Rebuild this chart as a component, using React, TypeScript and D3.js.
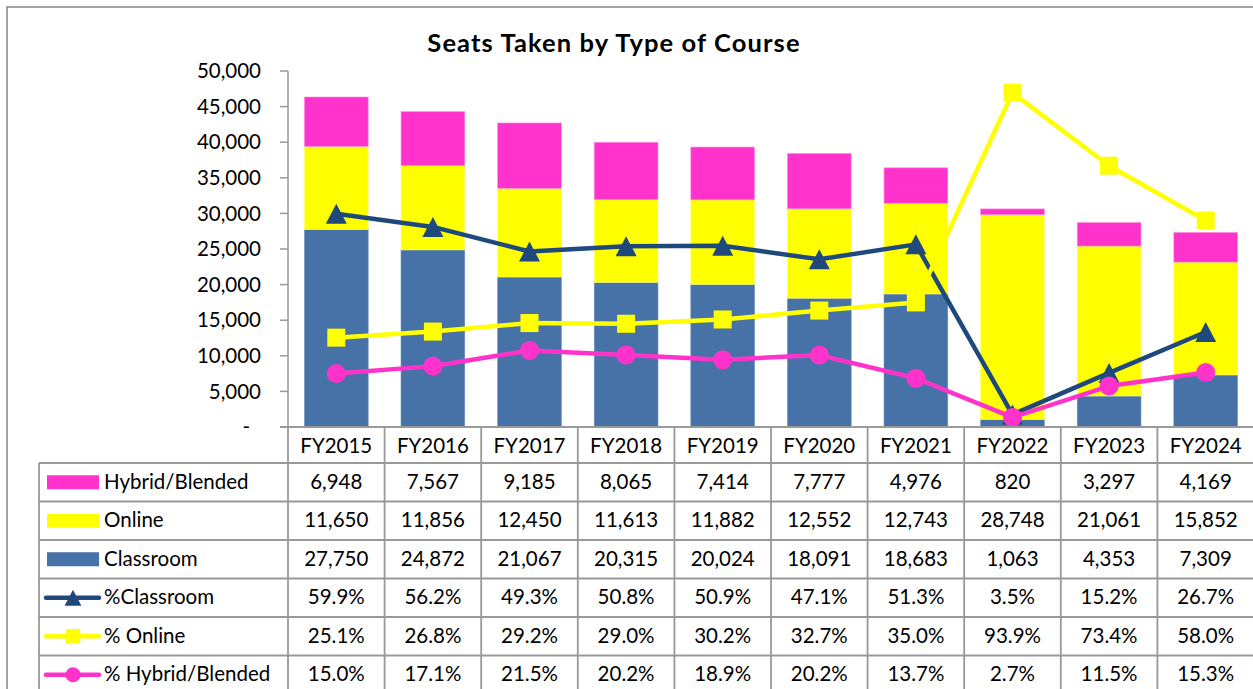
import React from 'react';
import * as d3 from 'd3';

const categories = ['FY2015', 'FY2016', 'FY2017', 'FY2018', 'FY2019', 'FY2020', 'FY2021', 'FY2022', 'FY2023', 'FY2024'];
const hybrid = [6948, 7567, 9185, 8065, 7414, 7777, 4976, 820, 3297, 4169];
const online = [11650, 11856, 12450, 11613, 11882, 12552, 12743, 28748, 21061, 15852];
const classroom = [27750, 24872, 21067, 20315, 20024, 18091, 18683, 1063, 4353, 7309];
const pctClassroom = [59.9, 56.2, 49.3, 50.8, 50.9, 47.1, 51.3, 3.5, 15.2, 26.7];
const pctOnline = [25.1, 26.8, 29.2, 29.0, 30.2, 32.7, 35.0, 93.9, 73.4, 58.0];
const pctHybrid = [15.0, 17.1, 21.5, 20.2, 18.9, 20.2, 13.7, 2.7, 11.5, 15.3];
const yTicks = [0, 5000, 10000, 15000, 20000, 25000, 30000, 35000, 40000, 45000, 50000];

const BLUE = '#4672A7';
const NAVY = '#1F497D';
const YELLOW = '#FFFF00';
const PINK = '#FF33CC';
const GRID = '#999999';
const FONT = 'Lato, "Open Sans", sans-serif';

type Marker = 'triangle' | 'square' | 'circle';

function MarkerShape({ kind, cx, cy, color, s = 1 }: { kind: Marker; cx: number; cy: number; color: string; s?: number }) {
  if (kind === 'triangle') {
    const w = 21 * s, h = 20 * s;
    return <path d={`M${cx},${cy - h / 2} L${cx + w / 2},${cy + h / 2} L${cx - w / 2},${cy + h / 2} Z`} fill={color} />;
  }
  if (kind === 'square') {
    const a = 18 * s;
    return <rect x={cx - a / 2} y={cy - a / 2} width={a} height={a} fill={color} />;
  }
  return <circle cx={cx} cy={cy} r={9.5 * s} fill={color} />;
}

export default function App() {
  const left = 288, right = 1254, top = 71, bottom = 427;
  const x = d3.scaleBand<string>().domain(categories).range([left, right]).paddingInner(0.34).paddingOuter(0.17);
  const step = x.step();
  const y = d3.scaleLinear().domain([0, 50000]).range([bottom, top]);
  const y2 = d3.scaleLinear().domain([0, 100]).range([bottom, top]);
  const fmtN = d3.format(',');
  const fmtT = (v: number) => (v === 0 ? '-' : fmtN(v));
  const cx = (c: string) => (x(c) as number) + x.bandwidth() / 2;

  const stacks = categories.map((c, i) => {
    const segs = [
      { v: classroom[i], color: BLUE, edge: '#6F93C0' },
      { v: online[i], color: YELLOW, edge: '#FFFF80' },
      { v: hybrid[i], color: PINK, edge: '#FF8FE2' },
    ];
    let acc = 0;
    return segs.map((s) => {
      const y0 = acc;
      acc += s.v;
      return { c, y0, y1: acc, color: s.color, edge: s.edge };
    });
  });

  const lineSeries: { name: string; values: number[]; color: string; marker: Marker }[] = [
    { name: '%Classroom', values: pctClassroom, color: NAVY, marker: 'triangle' },
    { name: '% Online', values: pctOnline, color: YELLOW, marker: 'square' },
    { name: '% Hybrid/Blended', values: pctHybrid, color: PINK, marker: 'circle' },
  ];
  const line = d3.line<number>().x((_, i) => cx(categories[i])).y((v) => y2(v));

  const rowH = 38.5;
  const headerBottom = 463;
  const tableLeft = 39;
  const rows: { label: string; values: string[]; key: { type: 'rect' | 'line'; color: string; marker?: Marker } }[] = [
    { label: 'Hybrid/Blended', values: hybrid.map(fmtN), key: { type: 'rect', color: PINK } },
    { label: 'Online', values: online.map(fmtN), key: { type: 'rect', color: YELLOW } },
    { label: 'Classroom', values: classroom.map(fmtN), key: { type: 'rect', color: BLUE } },
    { label: '%Classroom', values: pctClassroom.map((v) => v.toFixed(1) + '%'), key: { type: 'line', color: NAVY, marker: 'triangle' } },
    { label: '% Online', values: pctOnline.map((v) => v.toFixed(1) + '%'), key: { type: 'line', color: YELLOW, marker: 'square' } },
    { label: '% Hybrid/Blended', values: pctHybrid.map((v) => v.toFixed(1) + '%'), key: { type: 'line', color: PINK, marker: 'circle' } },
  ];
  const tableBottom = headerBottom + rows.length * rowH;

  return (
    <svg width={1253} height={689} style={{ position: 'absolute', left: 0, top: 0, background: '#fff' }} fontFamily={FONT}>
      <rect x={0} y={0} width={1253} height={689} fill="#fff" />
      <rect x={7} y={7} width={1300} height={720} fill="none" stroke="#878787" strokeWidth={1.5} />
      <text x={614} y={52} textAnchor="middle" fontSize={25.5} fontWeight={700} letterSpacing={1.1} fill="#000">Seats Taken by Type of Course</text>

      {/* y axis */}
      <line x1={left} x2={left} y1={top} y2={bottom} stroke={GRID} strokeWidth={1.5} />
      {yTicks.map((t) => (
        <g key={t}>
          <line x1={left - 8} x2={left} y1={y(t)} y2={y(t)} stroke={GRID} strokeWidth={1.5} />
          <text x={t === 0 ? 250 : 261} y={y(t)} dy="0.35em" textAnchor="end" fontSize={20.5} fill="#000">{fmtT(t)}</text>
        </g>
      ))}

      {/* bars */}
      {stacks.map((segs) =>
        segs.map((s, j) => (
          <rect key={s.c + j} x={x(s.c)} width={x.bandwidth()} y={y(s.y1)} height={y(s.y0) - y(s.y1)} fill={s.color} stroke={s.edge} strokeWidth={0.6} />
        ))
      )}

      {/* lines */}
      {lineSeries.map((ls) => (
        <g key={ls.name}>
          <path d={line(ls.values) || ''} fill="none" stroke={ls.color} strokeWidth={4.5} strokeLinejoin="round" />
          {ls.values.map((v, i) => (
            <MarkerShape key={i} kind={ls.marker} cx={cx(categories[i])} cy={y2(v)} color={ls.color} />
          ))}
        </g>
      ))}

      {/* table grid */}
      <line x1={left - 8} x2={right} y1={bottom} y2={bottom} stroke={GRID} strokeWidth={2} />
      {d3.range(rows.length + 1).map((r) => (
        <line key={'h' + r} x1={tableLeft} x2={right} y1={headerBottom + r * rowH} y2={headerBottom + r * rowH} stroke={GRID} strokeWidth={1.8} />
      ))}
      <line x1={tableLeft} x2={tableLeft} y1={headerBottom} y2={tableBottom} stroke={GRID} strokeWidth={1.8} />
      {d3.range(categories.length + 1).map((i) => (
        <line key={'v' + i} x1={left + i * step} x2={left + i * step} y1={bottom} y2={tableBottom} stroke={GRID} strokeWidth={1.8} />
      ))}

      {/* header labels */}
      {categories.map((c) => (
        <text key={c} x={cx(c)} y={(bottom + headerBottom) / 2 + 0.5} dy="0.35em" textAnchor="middle" fontSize={20.5} fill="#000">{c}</text>
      ))}

      {/* rows */}
      {rows.map((row, r) => {
        const my = headerBottom + r * rowH + rowH / 2;
        return (
          <g key={row.label}>
            {row.key.type === 'rect' ? (
              <rect x={47} y={my - 7} width={52} height={14} fill={row.key.color} />
            ) : (
              <g>
                <line x1={46} x2={99} y1={my} y2={my} stroke={row.key.color} strokeWidth={4.5} strokeLinecap="round" />
                <MarkerShape kind={row.key.marker as Marker} cx={73} cy={my} color={row.key.color} s={0.8} />
              </g>
            )}
            <text x={104} y={my - 0.5} dy="0.35em" fontSize={20.5} fill="#000">{row.label}</text>
            {row.values.map((v, i) => (
              <text key={i} x={cx(categories[i])} y={my - 0.5} dy="0.35em" textAnchor="middle" fontSize={20.5} fill="#000">{v}</text>
            ))}
          </g>
        );
      })}
    </svg>
  );
}
